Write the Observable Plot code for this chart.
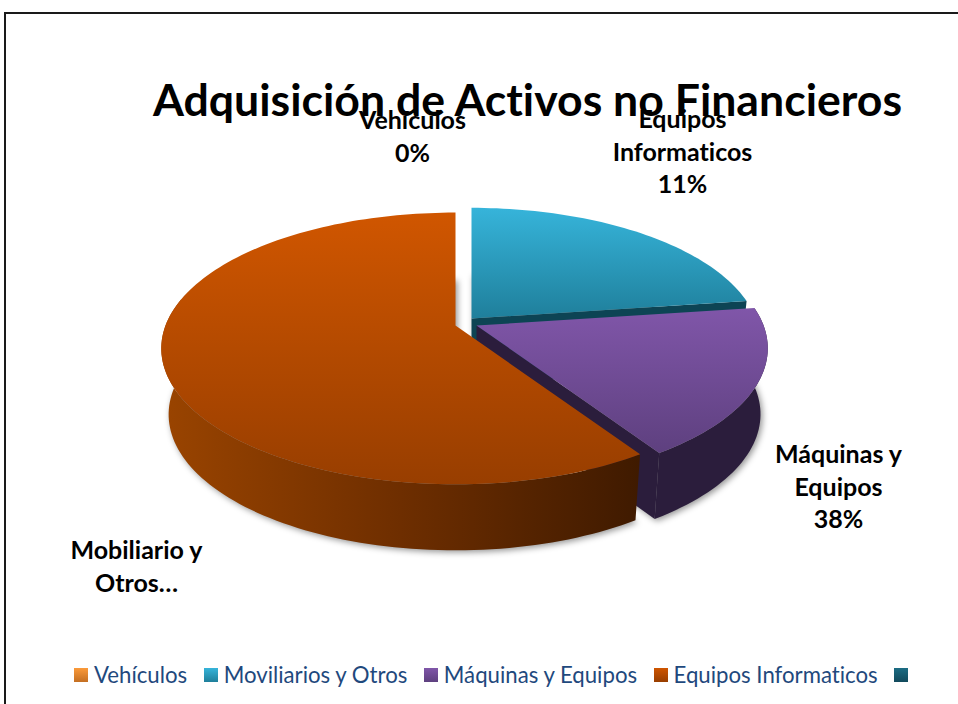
<!DOCTYPE html>
<html lang="es">
<head>
<meta charset="utf-8">
<script src="https://cdn.jsdelivr.net/npm/d3@7"></script>
<script src="https://cdn.jsdelivr.net/npm/@observablehq/plot@0.6"></script>
<style>
html,body{margin:0;padding:0;width:958px;height:704px;overflow:hidden;background:#fff;}
#frame{position:absolute;left:4px;top:12px;width:1000px;height:800px;border:2px solid #1a1a1a;box-sizing:border-box;}
#title{position:absolute;left:153px;top:72px;margin:0;font:700 44.6px/1.2 Lato,Carlito,sans-serif;color:#000;white-space:nowrap;font-variant-ligatures:none;}
#chart{position:absolute;left:0;top:110px;}
#chart text{font-variant-ligatures:none;}
#legend{position:absolute;left:74px;top:662px;display:flex;align-items:center;font:400 22.2px/26px Lato,Carlito,sans-serif;color:#1f497d;white-space:nowrap;font-variant-ligatures:none;}
#legend .sw{display:inline-block;width:14px;height:14px;margin-right:6px;}
#legend .it{display:flex;align-items:center;margin-right:16.5px;}
</style>
</head>
<body>
<div id="frame"></div>
<h1 id="title"></h1>
<div id="chart"></div>
<div id="legend"></div>
<script>
// ---- chart values ----
const chartTitle = "Adquisición de Activos no Financieros";
const categories = ["Vehículos", "Moviliarios y Otros", "Máquinas y Equipos", "Equipos Informaticos", ""];
const shares = [0, 22.8, 18.0, 59.2, 0];
const legendTop = ["#fb9a3a", "#36b4da", "#8056a9", "#cf5500", "#1c6d84"];
const legendBottom = ["#c46f22", "#1f7f9b", "#5e407f", "#983e00", "#124a5c"];
const labelTexts = ["Vehículos\n0%", "Equipos\nInformaticos\n11%", "Máquinas y\nEquipos\n38%", "Mobiliario y\nOtros…"];

// ---- drawing set-up (not data) ----
const labelPlacement = [[412, 106], [682, 105], [838, 440], [136, 536]];
const explode = {1: [471, 318, 0.98], 2: [476, 325, 0.99], 3: [455, 325, 1]};
const R = 290, A = 132, K = 0.169, DEPTH = 66, SHRINK = 0.975;
const topFill = {1: "url(#g1)", 2: "url(#g2)", 3: "url(#g3)"};
const sideFill = {1: "#0d4454", 2: "#2b1d3c", 3: "url(#s3)"};

const rad = d => d * Math.PI / 180;
const project = (o, deg) => {
  const u = Math.sin(rad(deg)), v = -Math.cos(rad(deg)), s = o[2] / (1 - K * v);
  return {x: o[0] + R * u * s, y: o[1] + A * v * s};
};
const lower = (o, p) => ({x: o[0] + (p.x - o[0]) * SHRINK, y: p.y + DEPTH});
const sweep = (o, a0, a1) => d3.range(a0, a1, 1.5).concat([a1]).map(a => project(o, a));

const total = d3.sum(shares);
let cum = 0;
const slices = shares.map((s, i) => {
  const a0 = cum / total * 360; cum += s;
  return {i, a0, a1: cum / total * 360};
}).filter(d => shares[d.i] > 0);

const polys = [];
const add = (pts, fill, extra = {}) => polys.push(Plot.line(pts, {x: "x", y: "y", fill, stroke: "none", ...extra}));

// soft shadow beneath the whole pie
for (const {i, a0, a1} of slices) {
  const o = explode[i];
  const rim = sweep(o, a0, a1);
  const base = [{x: o[0], y: o[1]}, ...rim, {x: o[0], y: o[1]}].map(p => lower(o, p)).map(p => ({x: p.x + 2, y: p.y + 2}));
  add(base, "#000", {fillOpacity: 0.42, imageFilter: "blur(3px)"});
}
// walls then tops, back to front
for (const {i, a0, a1} of slices) {
  const o = explode[i];
  const apex = {x: o[0], y: o[1]};
  const end = project(o, a1);
  const cutWall = [apex, end, lower(o, end), lower(o, apex)];
  if (i < 3) add(cutWall, sideFill[i]);
  const from = Math.max(a0, i === 3 ? a0 : 60);
  const to = i === 3 ? 282 : a1;
  if (i > 1) {
    const arc = sweep(o, from, to);
    add([...arc, ...arc.map(p => lower(o, p)).reverse()], sideFill[i]);
  }
  add([apex, ...sweep(o, a0, a1)], topFill[i]);
}

const plot = Plot.plot({
  width: 958, height: 540,
  margin: 0,
  x: {domain: [0, 958], range: [0, 958], axis: null},
  y: {domain: [110, 650], range: [0, 540], axis: null},
  style: {background: "transparent", overflow: "visible"},
  marks: [
    ...polys,
    Plot.text(labelTexts, {
      x: (d, i) => labelPlacement[i][0],
      y: (d, i) => labelPlacement[i][1],
      text: d => d,
      textAnchor: "middle",
      lineAnchor: "top",
      lineHeight: 1.29,
      fontFamily: "Lato, Carlito, sans-serif",
      fontWeight: 700,
      fontSize: 25,
      fill: "#000"
    })
  ]
});

const grad = (id, stops, horizontal) => {
  const g = defs.append("linearGradient").attr("id", id).attr("x1", 0).attr("y1", 0)
    .attr("x2", horizontal ? 1 : 0).attr("y2", horizontal ? 0 : 1);
  stops.forEach((c, k) => g.append("stop").attr("offset", k / (stops.length - 1)).attr("stop-color", c));
};
const defs = d3.select(plot).insert("defs", ":first-child");
grad("g1", ["#36b4da", "#1f7f9b"]);
grad("g2", ["#8056a9", "#5e407f"]);
grad("g3", ["#d05600", "#983e00"]);
grad("s3", ["#9a4400", "#6e2e00", "#3f1a00"], true);

document.getElementById("chart").append(plot);
document.getElementById("title").textContent = chartTitle;

const legend = d3.select("#legend");
categories.forEach((c, i) => {
  const it = legend.append("span").attr("class", "it");
  it.append("span").attr("class", "sw").style("background", `linear-gradient(${legendTop[i]},${legendBottom[i]})`);
  it.append("span").text(c);
});
</script>
</body>
</html>
